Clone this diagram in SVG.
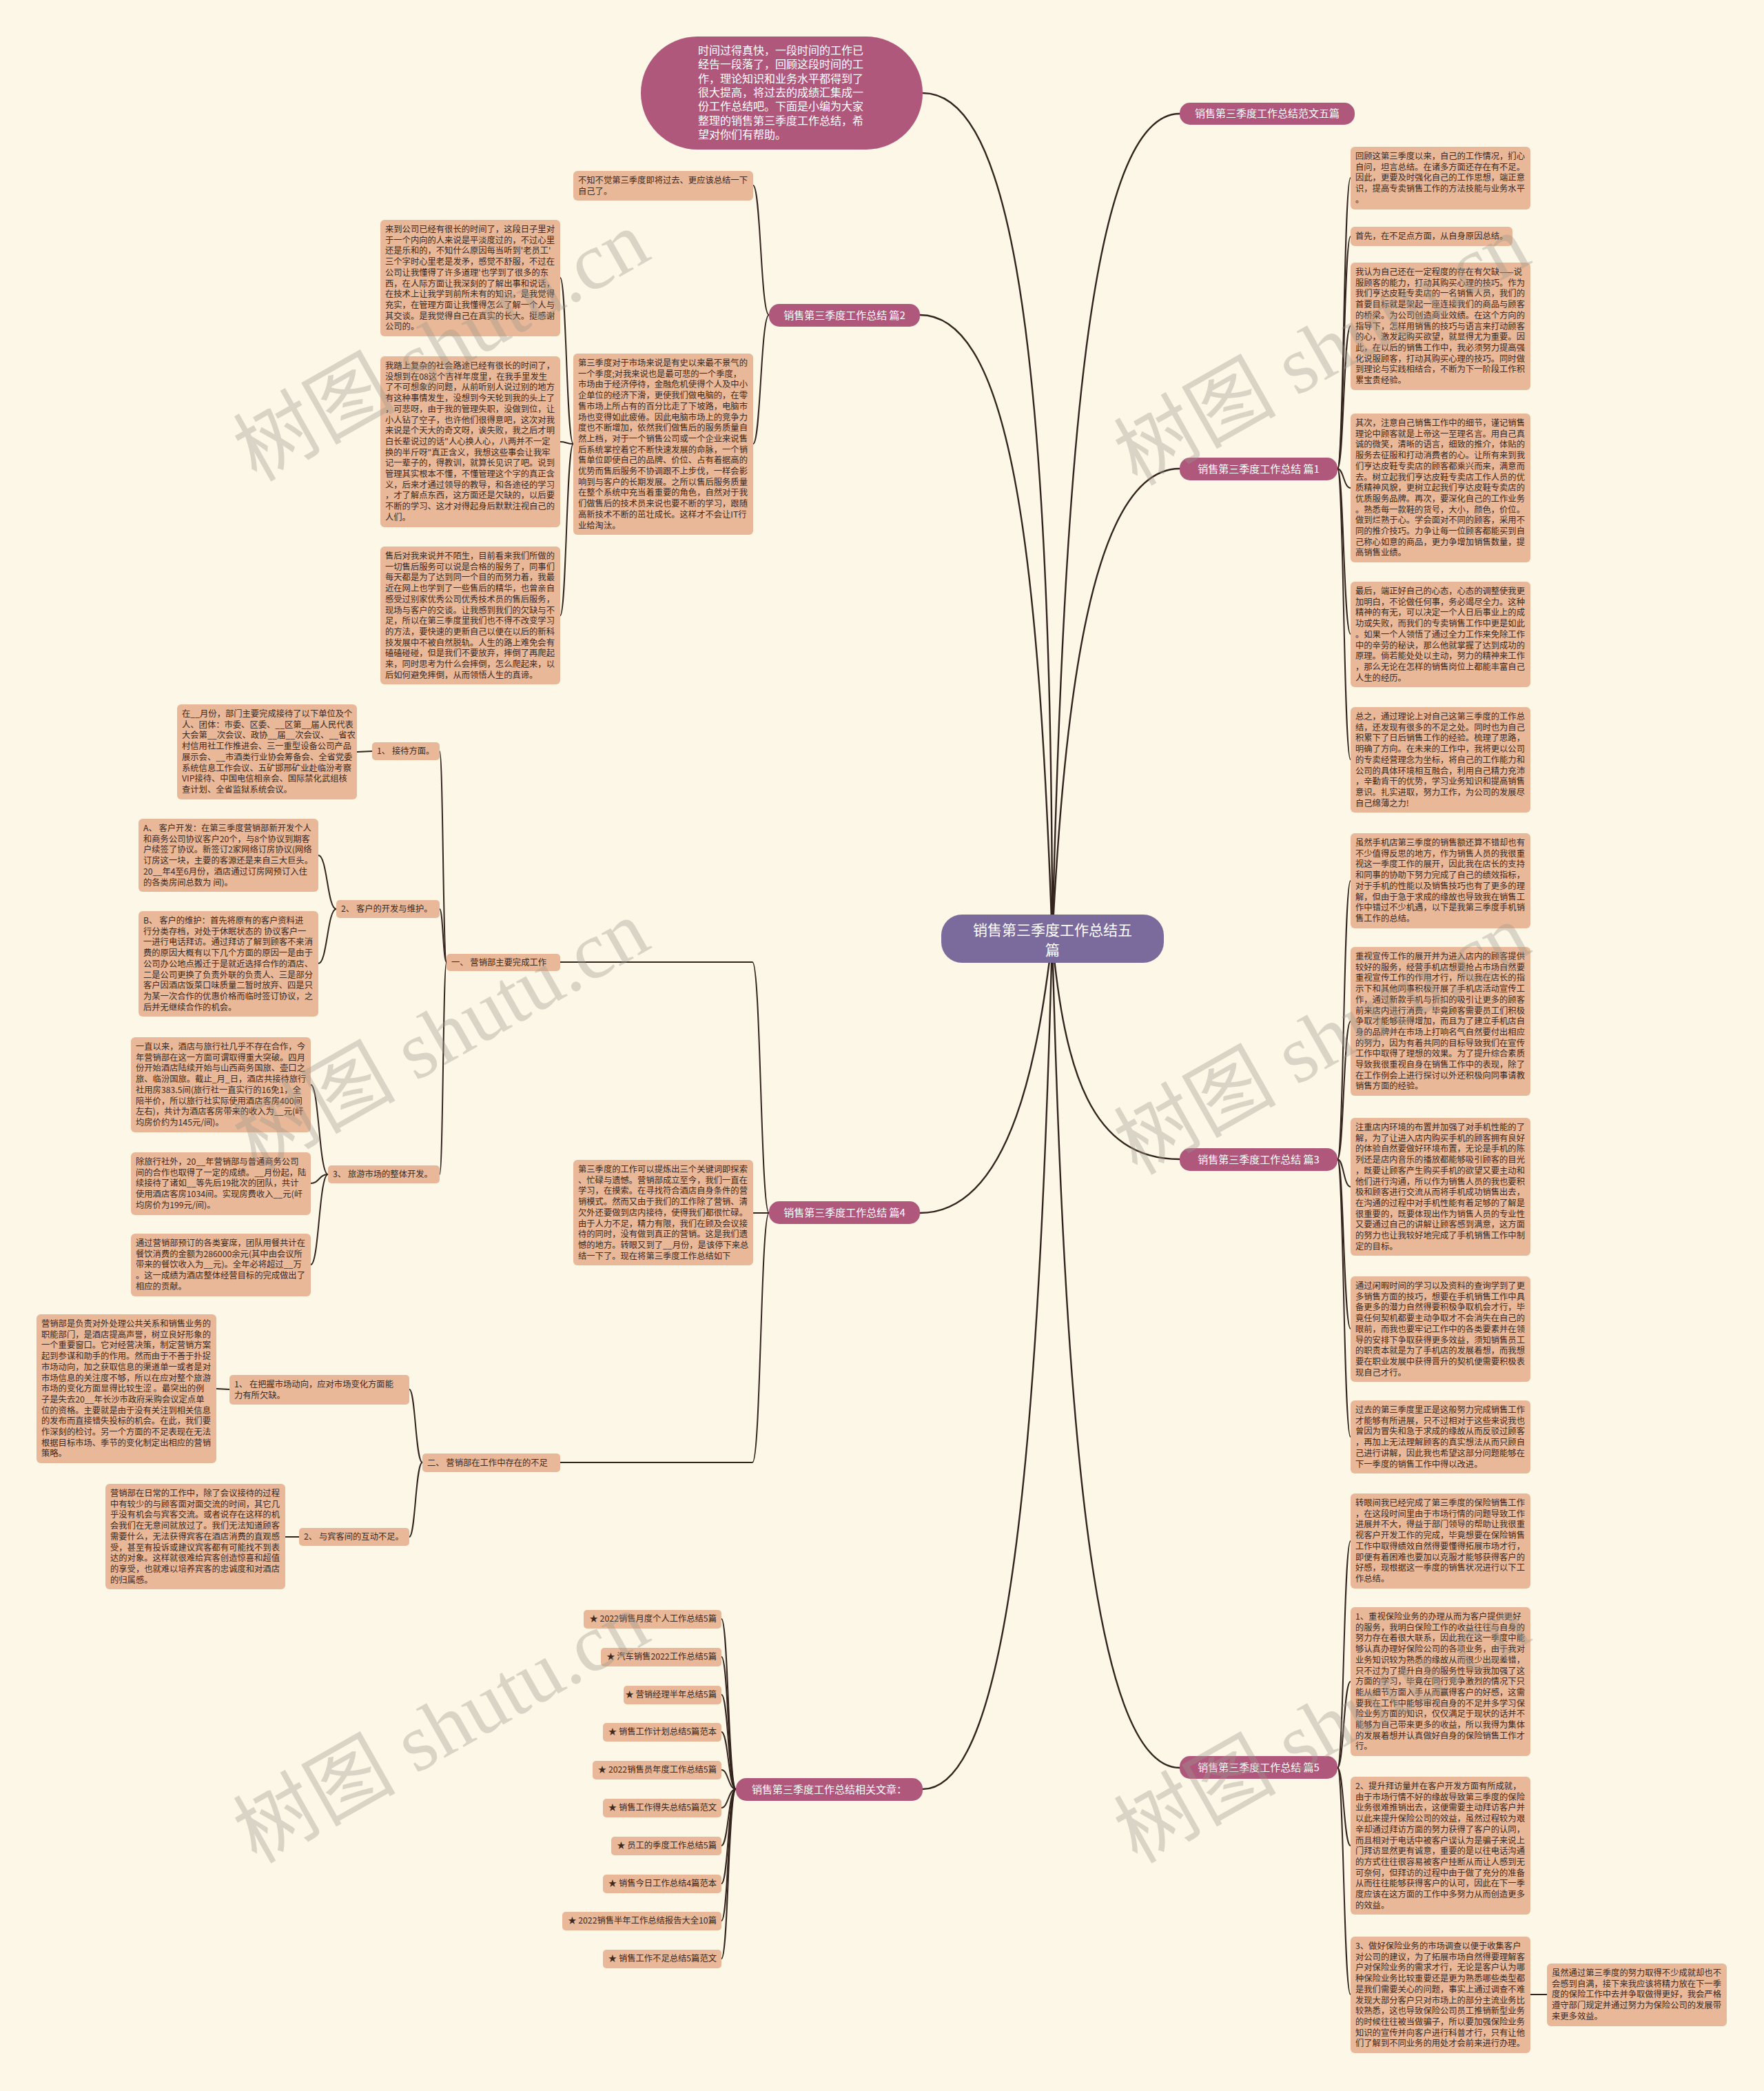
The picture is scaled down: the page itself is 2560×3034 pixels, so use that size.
<svg xmlns="http://www.w3.org/2000/svg" width="2560" height="3034" viewBox="0 0 2560 3034">
<style>
.bg{fill:#fdf7e7}
.bx{fill:#e9b899}
.t{font-family:'Noto Sans CJK SC','Noto Sans',sans-serif;font-size:12.3px;fill:#3c2a22}
.lb{fill:#b0587c}
.lt{font-family:'Noto Sans CJK SC','Noto Sans',sans-serif;font-size:15px;fill:#ffffff;text-anchor:middle}
.c{fill:none;stroke:#34241e;stroke-width:2}
.cm{fill:none;stroke:#34241e;stroke-width:2.4}
.wm{font-family:'Liberation Serif','Noto Sans CJK SC',serif;font-size:118px;fill:#9c978c;opacity:0.36}
.ra{text-anchor:end}
</style>
<rect class="bg" x="0" y="0" width="2560" height="3034"/>

<g id="connectors">
<path class="cm" d="M1339 135 C1450 135 1527 400 1527 1362"/>
<path class="cm" d="M1527 1362 C1545 644 1583 165 1712 165"/>
<path class="cm" d="M1527 1362 C1545 1018 1583 680 1712 680"/>
<path class="cm" d="M1527 1362 C1545 1554 1583 1682 1712 1682"/>
<path class="cm" d="M1527 1362 C1545 2043 1583 2565 1712 2565"/>
<path class="cm" d="M1527 1362 C1508 819 1470 457 1335 457"/>
<path class="cm" d="M1527 1362 C1508 1521 1470 1760 1335 1760"/>
<path class="cm" d="M1527 1362 C1508 2056 1470 2596 1339 2596"/>

<path class="c" d="M1941 680 C1950 680 1950 258 1960 258"/>
<path class="c" d="M1941 680 C1950 680 1950 343 1960 343"/>
<path class="c" d="M1941 680 C1950 680 1950 473 1960 473"/>
<path class="c" d="M1941 680 C1950 680 1950 708 1960 708"/>
<path class="c" d="M1941 680 C1950 680 1950 920 1960 920"/>
<path class="c" d="M1941 680 C1950 680 1950 1102 1960 1102"/>

<path class="c" d="M1941 1682 C1950 1682 1950 1278 1960 1278"/>
<path class="c" d="M1941 1682 C1950 1682 1950 1482 1960 1482"/>
<path class="c" d="M1941 1682 C1950 1682 1950 1722 1960 1722"/>
<path class="c" d="M1941 1682 C1950 1682 1950 1928 1960 1928"/>
<path class="c" d="M1941 1682 C1950 1682 1950 2085 1960 2085"/>

<path class="c" d="M1941 2565 C1950 2565 1950 2236 1960 2236"/>
<path class="c" d="M1941 2565 C1950 2565 1950 2440 1960 2440"/>
<path class="c" d="M1941 2565 C1950 2565 1950 2678 1960 2678"/>
<path class="c" d="M1941 2565 C1950 2565 1950 2894 1960 2894"/>
<path class="c" d="M2221 2894 L2245 2894"/>

<path class="c" d="M1116 457 C1104 457 1104 269 1093 269"/>
<path class="c" d="M1116 457 C1104 457 1104 644 1093 644"/>
<path class="c" d="M832 644 C822 644 822 403 813 403"/>
<path class="c" d="M832 644 C822 644 822 641 813 641"/>
<path class="c" d="M832 644 C822 644 822 893 813 893"/>

<path class="c" d="M1116 1760 C1104 1760 1104 1396 1092 1396 L813 1396"/>
<path class="c" d="M1116 1760 L1093 1760"/>
<path class="c" d="M1116 1760 C1104 1760 1104 2122 1092 2122 L813 2122"/>

<path class="c" d="M648 1396 C643 1396 643 1090 638 1090"/>
<path class="c" d="M648 1396 C643 1396 643 1319 638 1319"/>
<path class="c" d="M648 1396 C643 1396 643 1704 638 1704"/>
<path class="c" d="M540 1090 L518 1091"/>
<path class="c" d="M488 1319 C475 1319 475 1241 462 1241"/>
<path class="c" d="M488 1319 C475 1319 475 1398 462 1398"/>
<path class="c" d="M476 1704 C463 1704 463 1574 451 1574"/>
<path class="c" d="M476 1704 C463 1704 463 1717 451 1717"/>
<path class="c" d="M476 1704 C463 1704 463 1835 451 1835"/>

<path class="c" d="M613 2122 C603 2122 603 2016 594 2016"/>
<path class="c" d="M613 2122 C603 2122 603 2230 594 2230"/>
<path class="c" d="M333 2016 L314 2015"/>
<path class="c" d="M434 2230 L414 2230"/>

<path class="c" d="M1068 2596 C1057 2596 1057 2349 1047 2349"/>
<path class="c" d="M1068 2596 C1057 2596 1057 2404 1047 2404"/>
<path class="c" d="M1068 2596 C1057 2596 1057 2459 1047 2459"/>
<path class="c" d="M1068 2596 C1057 2596 1057 2513 1047 2513"/>
<path class="c" d="M1068 2596 C1057 2596 1057 2568 1047 2568"/>
<path class="c" d="M1068 2596 C1057 2596 1057 2623 1047 2623"/>
<path class="c" d="M1068 2596 C1057 2596 1057 2678 1047 2678"/>
<path class="c" d="M1068 2596 C1057 2596 1057 2733 1047 2733"/>
<path class="c" d="M1068 2596 C1057 2596 1057 2787 1047 2787"/>
<path class="c" d="M1068 2596 C1057 2596 1057 2842 1047 2842"/>
</g>

<g id="intro">
<rect x="930" y="53" width="409" height="164" rx="82" fill="#b0587c"/>
<text x="1013" y="79" style="font-family:'Noto Sans CJK SC',sans-serif;font-size:16px;fill:#fff">
<tspan x="1013">时间过得真快，一段时间的工作已</tspan>
<tspan x="1013" dy="20.3">经告一段落了，回顾这段时间的工</tspan>
<tspan x="1013" dy="20.3">作，理论知识和业务水平都得到了</tspan>
<tspan x="1013" dy="20.3">很大提高，将过去的成绩汇集成一</tspan>
<tspan x="1013" dy="20.3">份工作总结吧。下面是小编为大家</tspan>
<tspan x="1013" dy="20.3">整理的销售第三季度工作总结，希</tspan>
<tspan x="1013" dy="20.3">望对你们有帮助。</tspan>
</text>
</g>

<g id="center">
<rect x="1366" y="1327" width="323" height="70" rx="30" fill="#7b6b9d"/>
<text x="1527.5" y="1357" style="font-family:'Noto Sans CJK SC',sans-serif;font-size:21px;fill:#fff;text-anchor:middle"><tspan x="1527.5">销售第三季度工作总结五</tspan><tspan x="1527.5" dy="29">篇</tspan></text>
</g>

<g id="l-fanwen"><rect class="lb" x="1712" y="149" width="254" height="32" rx="15"/><text class="lt" x="1839" y="170">销售第三季度工作总结范文五篇</text></g>
<g id="l-p1"><rect class="lb" x="1712" y="664" width="229" height="33" rx="15"/><text class="lt" x="1826.5" y="686">销售第三季度工作总结 篇1</text></g>
<g id="l-p3"><rect class="lb" x="1712" y="1666" width="229" height="33" rx="15"/><text class="lt" x="1826.5" y="1688">销售第三季度工作总结 篇3</text></g>
<g id="l-p5"><rect class="lb" x="1712" y="2548" width="229" height="33" rx="15"/><text class="lt" x="1826.5" y="2570">销售第三季度工作总结 篇5</text></g>
<g id="l-p2"><rect class="lb" x="1116" y="441" width="219" height="33" rx="15"/><text class="lt" x="1225.5" y="463">销售第三季度工作总结 篇2</text></g>
<g id="l-p4"><rect class="lb" x="1116" y="1743" width="219" height="33" rx="15"/><text class="lt" x="1225.5" y="1765">销售第三季度工作总结 篇4</text></g>
<g id="l-rel"><rect class="lb" x="1068" y="2580" width="271" height="33" rx="15"/><text class="lt" x="1203.5" y="2602">销售第三季度工作总结相关文章：</text></g>

<g id="b1"><rect class="bx" x="1960" y="213" width="261" height="91" rx="6"/><text class="t" x="1967" y="231">
<tspan x="1967">回顾这第三季度以来，自己的工作情况，扪心</tspan>
<tspan x="1967" dy="15.7">自问，坦言总结。在诸多方面还存在有不足。</tspan>
<tspan x="1967" dy="15.7">因此，更要及时强化自己的工作思想，端正意</tspan>
<tspan x="1967" dy="15.7">识，提高专卖销售工作的方法技能与业务水平</tspan>
<tspan x="1967" dy="15.7">。</tspan></text></g>
<g id="b2"><rect class="bx" x="1960" y="329" width="235" height="28" rx="6"/><text class="t" x="1967" y="347">首先，在不足点方面，从自身原因总结。</text></g>
<g id="b3"><rect class="bx" x="1960" y="381" width="261" height="185" rx="6"/><text class="t" x="1967" y="399">
<tspan x="1967">我认为自己还在一定程度的存在有欠缺——说</tspan>
<tspan x="1967" dy="15.7">服顾客的能力，打动其购买心理的技巧。作为</tspan>
<tspan x="1967" dy="15.7">我们亨达皮鞋专卖店的一名销售人员，我们的</tspan>
<tspan x="1967" dy="15.7">首要目标就是架起一座连接我们的商品与顾客</tspan>
<tspan x="1967" dy="15.7">的桥梁。为公司创造商业效绩。在这个方向的</tspan>
<tspan x="1967" dy="15.7">指导下，怎样用销售的技巧与语言来打动顾客</tspan>
<tspan x="1967" dy="15.7">的心，激发起购买欲望，就显得尤为重要。因</tspan>
<tspan x="1967" dy="15.7">此，在以后的销售工作中，我必须努力提高强</tspan>
<tspan x="1967" dy="15.7">化说服顾客，打动其购买心理的技巧。同时做</tspan>
<tspan x="1967" dy="15.7">到理论与实践相结合，不断为下一阶段工作积</tspan>
<tspan x="1967" dy="15.7">累宝贵经验。</tspan></text></g>
<g id="b4"><rect class="bx" x="1960" y="600" width="261" height="216" rx="6"/><text class="t" x="1967" y="618">
<tspan x="1967">其次，注意自己销售工作中的细节，谨记销售</tspan>
<tspan x="1967" dy="15.7">理论中顾客就是上帝这一至理名言。用自己真</tspan>
<tspan x="1967" dy="15.7">诚的微笑，清晰的语言，细致的推介，体贴的</tspan>
<tspan x="1967" dy="15.7">服务去征服和打动消费者的心。让所有来到我</tspan>
<tspan x="1967" dy="15.7">们亨达皮鞋专卖店的顾客都乘兴而来，满意而</tspan>
<tspan x="1967" dy="15.7">去。树立起我们亨达皮鞋专卖店工作人员的优</tspan>
<tspan x="1967" dy="15.7">质精神风貌，更树立起我们亨达皮鞋专卖店的</tspan>
<tspan x="1967" dy="15.7">优质服务品牌。再次，要深化自己的工作业务</tspan>
<tspan x="1967" dy="15.7">。熟悉每一款鞋的货号，大小，颜色，价位。</tspan>
<tspan x="1967" dy="15.7">做到烂熟于心。学会面对不同的顾客，采用不</tspan>
<tspan x="1967" dy="15.7">同的推介技巧。力争让每一位顾客都能买到自</tspan>
<tspan x="1967" dy="15.7">己称心如意的商品，更力争增加销售数量，提</tspan>
<tspan x="1967" dy="15.7">高销售业绩。</tspan></text></g>
<g id="b5"><rect class="bx" x="1960" y="844" width="261" height="153" rx="6"/><text class="t" x="1967" y="862">
<tspan x="1967">最后，端正好自己的心态，心态的调整使我更</tspan>
<tspan x="1967" dy="15.7">加明白，不论做任何事，务必竭尽全力。这种</tspan>
<tspan x="1967" dy="15.7">精神的有无，可以决定一个人日后事业上的成</tspan>
<tspan x="1967" dy="15.7">功或失败，而我们的专卖销售工作中更是如此</tspan>
<tspan x="1967" dy="15.7">。如果一个人领悟了通过全力工作来免除工作</tspan>
<tspan x="1967" dy="15.7">中的辛劳的秘诀，那么他就掌握了达到成功的</tspan>
<tspan x="1967" dy="15.7">原理。倘若能处处以主动，努力的精神来工作</tspan>
<tspan x="1967" dy="15.7">，那么无论在怎样的销售岗位上都能丰富自己</tspan>
<tspan x="1967" dy="15.7">人生的经历。</tspan></text></g>
<g id="b6"><rect class="bx" x="1960" y="1026" width="261" height="153" rx="6"/><text class="t" x="1967" y="1044">
<tspan x="1967">总之，通过理论上对自己这第三季度的工作总</tspan>
<tspan x="1967" dy="15.7">结，还发现有很多的不足之处。同时也为自己</tspan>
<tspan x="1967" dy="15.7">积累下了日后销售工作的经验。梳理了思路，</tspan>
<tspan x="1967" dy="15.7">明确了方向。在未来的工作中，我将更以公司</tspan>
<tspan x="1967" dy="15.7">的专卖经营理念为坐标，将自己的工作能力和</tspan>
<tspan x="1967" dy="15.7">公司的具体环境相互融合，利用自己精力充沛</tspan>
<tspan x="1967" dy="15.7">，辛勤肯干的优势，学习业务知识和提高销售</tspan>
<tspan x="1967" dy="15.7">意识。扎实进取，努力工作，为公司的发展尽</tspan>
<tspan x="1967" dy="15.7">自己绵薄之力!</tspan></text></g>

<g id="c1"><rect class="bx" x="1960" y="1209" width="261" height="138" rx="6"/><text class="t" x="1967" y="1227">
<tspan x="1967">虽然手机店第三季度的销售额还算不错却也有</tspan>
<tspan x="1967" dy="15.7">不少值得反思的地方，作为销售人员的我很重</tspan>
<tspan x="1967" dy="15.7">视这一季度工作的展开，因此我在店长的支持</tspan>
<tspan x="1967" dy="15.7">和同事的协助下努力完成了自己的绩效指标，</tspan>
<tspan x="1967" dy="15.7">对于手机的性能以及销售技巧也有了更多的理</tspan>
<tspan x="1967" dy="15.7">解，但由于急于求成的缘故也导致我在销售工</tspan>
<tspan x="1967" dy="15.7">作中错过不少机遇，以下是我第三季度手机销</tspan>
<tspan x="1967" dy="15.7">售工作的总结。</tspan></text></g>
<g id="c2"><rect class="bx" x="1960" y="1374" width="261" height="216" rx="6"/><text class="t" x="1967" y="1392">
<tspan x="1967">重视宣传工作的展开并为进入店内的顾客提供</tspan>
<tspan x="1967" dy="15.7">较好的服务，经营手机店想要抢占市场自然要</tspan>
<tspan x="1967" dy="15.7">重视宣传工作的作用才行，所以我在店长的指</tspan>
<tspan x="1967" dy="15.7">示下和其他同事积极开展了手机店活动宣传工</tspan>
<tspan x="1967" dy="15.7">作，通过新款手机与折扣的吸引让更多的顾客</tspan>
<tspan x="1967" dy="15.7">前来店内进行消费，毕竟顾客需要员工们积极</tspan>
<tspan x="1967" dy="15.7">争取才能够获得增加，而且为了建立手机店自</tspan>
<tspan x="1967" dy="15.7">身的品牌并在市场上打响名气自然要付出相应</tspan>
<tspan x="1967" dy="15.7">的努力，因为有着共同的目标导致我们在宣传</tspan>
<tspan x="1967" dy="15.7">工作中取得了理想的效果。为了提升综合素质</tspan>
<tspan x="1967" dy="15.7">导致我很重视自身在销售工作中的表现，除了</tspan>
<tspan x="1967" dy="15.7">在工作例会上进行探讨以外还积极向同事请教</tspan>
<tspan x="1967" dy="15.7">销售方面的经验。</tspan></text></g>
<g id="c3"><rect class="bx" x="1960" y="1622" width="261" height="200" rx="6"/><text class="t" x="1967" y="1640">
<tspan x="1967">注重店内环境的布置并加强了对手机性能的了</tspan>
<tspan x="1967" dy="15.7">解，为了让进入店内购买手机的顾客拥有良好</tspan>
<tspan x="1967" dy="15.7">的体验自然要做好环境布置，无论是手机的陈</tspan>
<tspan x="1967" dy="15.7">列还是店内音乐的播放都能够吸引顾客的目光</tspan>
<tspan x="1967" dy="15.7">，既要让顾客产生购买手机的欲望又要主动和</tspan>
<tspan x="1967" dy="15.7">他们进行沟通，所以作为销售人员的我也要积</tspan>
<tspan x="1967" dy="15.7">极和顾客进行交流从而将手机成功销售出去，</tspan>
<tspan x="1967" dy="15.7">在沟通的过程中对手机性能有着足够的了解是</tspan>
<tspan x="1967" dy="15.7">很重要的，既要体现出作为销售人员的专业性</tspan>
<tspan x="1967" dy="15.7">又要通过自己的讲解让顾客感到满意，这方面</tspan>
<tspan x="1967" dy="15.7">的努力也让我较好地完成了手机销售工作中制</tspan>
<tspan x="1967" dy="15.7">定的目标。</tspan></text></g>
<g id="c4"><rect class="bx" x="1960" y="1852" width="261" height="153" rx="6"/><text class="t" x="1967" y="1870">
<tspan x="1967">通过闲暇时间的学习以及资料的查询学到了更</tspan>
<tspan x="1967" dy="15.7">多销售方面的技巧，想要在手机销售工作中具</tspan>
<tspan x="1967" dy="15.7">备更多的潜力自然得要积极争取机会才行，毕</tspan>
<tspan x="1967" dy="15.7">竟任何契机都要主动争取才不会消失在自己的</tspan>
<tspan x="1967" dy="15.7">眼前，而我也要牢记工作中的各类要素并在领</tspan>
<tspan x="1967" dy="15.7">导的安排下争取获得更多效益，须知销售员工</tspan>
<tspan x="1967" dy="15.7">的职责本就是为了手机店的发展着想，而我想</tspan>
<tspan x="1967" dy="15.7">要在职业发展中获得晋升的契机便需要积极表</tspan>
<tspan x="1967" dy="15.7">现自己才行。</tspan></text></g>
<g id="c5"><rect class="bx" x="1960" y="2032" width="261" height="106" rx="6"/><text class="t" x="1967" y="2050">
<tspan x="1967">过去的第三季度里正是这般努力完成销售工作</tspan>
<tspan x="1967" dy="15.7">才能够有所进展，只不过相对于这些来说我也</tspan>
<tspan x="1967" dy="15.7">曾因为冒失和急于求成的缘故从而反驳过顾客</tspan>
<tspan x="1967" dy="15.7">，再加上无法理解顾客的真实想法从而只顾自</tspan>
<tspan x="1967" dy="15.7">己进行讲解，因此我也希望这部分问题能够在</tspan>
<tspan x="1967" dy="15.7">下一季度的销售工作中得以改进。</tspan></text></g>

<g id="d1"><rect class="bx" x="1960" y="2167" width="261" height="138" rx="6"/><text class="t" x="1967" y="2185">
<tspan x="1967">转眼间我已经完成了第三季度的保险销售工作</tspan>
<tspan x="1967" dy="15.7">，在这段时间里由于市场行情的问题导致工作</tspan>
<tspan x="1967" dy="15.7">进展并不大，得益于部门领导的帮助让我很重</tspan>
<tspan x="1967" dy="15.7">视客户开发工作的完成，毕竟想要在保险销售</tspan>
<tspan x="1967" dy="15.7">工作中取得绩效自然得要懂得拓展市场才行，</tspan>
<tspan x="1967" dy="15.7">即便有着困难也要加以克服才能够获得客户的</tspan>
<tspan x="1967" dy="15.7">好感，现根据这一季度的销售状况进行以下工</tspan>
<tspan x="1967" dy="15.7">作总结。</tspan></text></g>
<g id="d2"><rect class="bx" x="1960" y="2332" width="261" height="216" rx="6"/><text class="t" x="1967" y="2350">
<tspan x="1967">1、重视保险业务的办理从而为客户提供更好</tspan>
<tspan x="1967" dy="15.7">的服务，我明白保险工作的收益往往与自身的</tspan>
<tspan x="1967" dy="15.7">努力存在着很大联系，因此我在这一季度中能</tspan>
<tspan x="1967" dy="15.7">够认真办理好保险公司的各项业务，由于我对</tspan>
<tspan x="1967" dy="15.7">业务知识较为熟悉的缘故从而很少出现差错，</tspan>
<tspan x="1967" dy="15.7">只不过为了提升自身的服务性导致我加强了这</tspan>
<tspan x="1967" dy="15.7">方面的学习，毕竟在同行竞争激烈的情况下只</tspan>
<tspan x="1967" dy="15.7">能从细节方面入手从而赢得客户的好感，这需</tspan>
<tspan x="1967" dy="15.7">要我在工作中能够审视自身的不足并多学习保</tspan>
<tspan x="1967" dy="15.7">险业务方面的知识，仅仅满足于现状的话并不</tspan>
<tspan x="1967" dy="15.7">能够为自己带来更多的收益，所以我得为集体</tspan>
<tspan x="1967" dy="15.7">的发展着想并认真做好自身的保险销售工作才</tspan>
<tspan x="1967" dy="15.7">行。</tspan></text></g>
<g id="d3"><rect class="bx" x="1960" y="2578" width="261" height="200" rx="6"/><text class="t" x="1967" y="2596">
<tspan x="1967">2、提升拜访量并在客户开发方面有所成就，</tspan>
<tspan x="1967" dy="15.7">由于市场行情不好的缘故导致第三季度的保险</tspan>
<tspan x="1967" dy="15.7">业务很难推销出去，这便需要主动拜访客户并</tspan>
<tspan x="1967" dy="15.7">以此来提升保险公司的效益，虽然过程较为艰</tspan>
<tspan x="1967" dy="15.7">辛却通过拜访方面的努力获得了客户的认同，</tspan>
<tspan x="1967" dy="15.7">而且相对于电话中被客户误认为是骗子来说上</tspan>
<tspan x="1967" dy="15.7">门拜访显然更有诚意，重要的是以往电话沟通</tspan>
<tspan x="1967" dy="15.7">的方式往往很容易被客户挂断从而让人感到无</tspan>
<tspan x="1967" dy="15.7">可奈何，但拜访的过程中由于做了充分的准备</tspan>
<tspan x="1967" dy="15.7">从而往往能够获得客户的认可，因此在下一季</tspan>
<tspan x="1967" dy="15.7">度应该在这方面的工作中多努力从而创造更多</tspan>
<tspan x="1967" dy="15.7">的效益。</tspan></text></g>
<g id="d4"><rect class="bx" x="1960" y="2810" width="261" height="169" rx="6"/><text class="t" x="1967" y="2828">
<tspan x="1967">3、做好保险业务的市场调查以便于收集客户</tspan>
<tspan x="1967" dy="15.7">对公司的建议，为了拓展市场自然得要理解客</tspan>
<tspan x="1967" dy="15.7">户对保险业务的需求才行，无论是客户认为哪</tspan>
<tspan x="1967" dy="15.7">种保险业务比较重要还是更为熟悉哪些类型都</tspan>
<tspan x="1967" dy="15.7">是我们需要关心的问题，事实上通过调查不难</tspan>
<tspan x="1967" dy="15.7">发现大部分客户只对市场上的部分主流业务比</tspan>
<tspan x="1967" dy="15.7">较熟悉，这也导致保险公司员工推销新型业务</tspan>
<tspan x="1967" dy="15.7">的时候往往被当做骗子，所以要加强保险业务</tspan>
<tspan x="1967" dy="15.7">知识的宣传并向客户进行科普才行，只有让他</tspan>
<tspan x="1967" dy="15.7">们了解到不同业务的用处才会前来进行办理。</tspan></text></g>
<g id="d5"><rect class="bx" x="2245" y="2849" width="261" height="91" rx="6"/><text class="t" x="2252" y="2867">
<tspan x="2252">虽然通过第三季度的努力取得不少成就却也不</tspan>
<tspan x="2252" dy="15.7">会感到自满，接下来我应该将精力放在下一季</tspan>
<tspan x="2252" dy="15.7">度的保险工作中去并争取做得更好，我会严格</tspan>
<tspan x="2252" dy="15.7">遵守部门规定并通过努力为保险公司的发展带</tspan>
<tspan x="2252" dy="15.7">来更多效益。</tspan></text></g>

<g id="e1"><rect class="bx" x="832" y="248" width="261" height="43" rx="6"/><text class="t" x="839" y="266">
<tspan x="839">不知不觉第三季度即将过去、更应该总结一下</tspan>
<tspan x="839" dy="15.7">自己了。</tspan></text></g>
<g id="e2"><rect class="bx" x="832" y="513" width="261" height="263" rx="6"/><text class="t" x="839" y="531">
<tspan x="839">第三季度对于市场来说是有史以来最不景气的</tspan>
<tspan x="839" dy="15.7">一个季度;对我来说也是最可悲的一个季度，</tspan>
<tspan x="839" dy="15.7">市场由于经济停待，金融危机使得个人及中小</tspan>
<tspan x="839" dy="15.7">企单位的经济下滑，更使我们做电脑的，在零</tspan>
<tspan x="839" dy="15.7">售市场上所占有的百分比走了下坡路，电脑市</tspan>
<tspan x="839" dy="15.7">场也变得如此疲倦。因此电脑市场上的竞争力</tspan>
<tspan x="839" dy="15.7">度也不断增加，依然我们做售后的服务质量自</tspan>
<tspan x="839" dy="15.7">然上档，对于一个销售公司或一个企业来说售</tspan>
<tspan x="839" dy="15.7">后系统掌控着它不断快速发展的命脉，一个销</tspan>
<tspan x="839" dy="15.7">售单位即使自己的品牌、价位、占有着据高的</tspan>
<tspan x="839" dy="15.7">优势而售后服务不协调跟不上步伐，一样会影</tspan>
<tspan x="839" dy="15.7">响到与客户的长期发展。之所以售后服务质量</tspan>
<tspan x="839" dy="15.7">在整个系统中充当着重要的角色，自然对于我</tspan>
<tspan x="839" dy="15.7">们做售后的技术员来说也要不断的学习，跟随</tspan>
<tspan x="839" dy="15.7">高新技术不断的茁壮成长。这样才不会让IT行</tspan>
<tspan x="839" dy="15.7">业给淘汰。</tspan></text></g>
<g id="a1"><rect class="bx" x="552" y="319" width="261" height="169" rx="6"/><text class="t" x="559" y="337">
<tspan x="559">来到公司已经有很长的时间了，这段日子里对</tspan>
<tspan x="559" dy="15.7">于一个内向的人来说是平淡度过的，不过心里</tspan>
<tspan x="559" dy="15.7">还是乐和的，不知什么原因每当听到'老员工'</tspan>
<tspan x="559" dy="15.7">三个字时心里老是发矛，感觉不舒服，不过在</tspan>
<tspan x="559" dy="15.7">公司让我懂得了许多道理'也学到了很多的东</tspan>
<tspan x="559" dy="15.7">西，在人际方面让我深刻的了解出事和说话，</tspan>
<tspan x="559" dy="15.7">在技术上让我学到前所未有的知识，是我觉得</tspan>
<tspan x="559" dy="15.7">充实，在管理方面让我懂得怎么了解一个人与</tspan>
<tspan x="559" dy="15.7">其交谈。是我觉得自己在真实的长大。挺感谢</tspan>
<tspan x="559" dy="15.7">公司的。</tspan></text></g>
<g id="a2"><rect class="bx" x="552" y="517" width="261" height="248" rx="6"/><text class="t" x="559" y="535">
<tspan x="559">我踏上复杂的社会路途已经有很长的时间了，</tspan>
<tspan x="559" dy="15.7">没想到在08这个吉祥年度里，在我手里发生</tspan>
<tspan x="559" dy="15.7">了不可想象的问题，从前听别人说过别的地方</tspan>
<tspan x="559" dy="15.7">有这种事情发生，没想到今天轮到我的头上了</tspan>
<tspan x="559" dy="15.7">，可悲呀，由于我的管理失职，没做到位，让</tspan>
<tspan x="559" dy="15.7">小人钻了空子，也许他们很得意吧，这次对我</tspan>
<tspan x="559" dy="15.7">来说是个天大的奇文呀，诶失败，我之后才明</tspan>
<tspan x="559" dy="15.7">白长辈说过的话"人心换人心，八两并不一定</tspan>
<tspan x="559" dy="15.7">换的半斤呀"真正含义，我想这些事会让我牢</tspan>
<tspan x="559" dy="15.7">记一辈子的，得教训，就算长见识了吧。说到</tspan>
<tspan x="559" dy="15.7">管理其实根本不懂，不懂管理这个字的真正含</tspan>
<tspan x="559" dy="15.7">义，后来才通过领导的教导，和各途径的学习</tspan>
<tspan x="559" dy="15.7">，才了解点东西，这方面还是欠缺的，以后要</tspan>
<tspan x="559" dy="15.7">不断的学习、这才对得起身后默默注视自己的</tspan>
<tspan x="559" dy="15.7">人们。</tspan></text></g>
<g id="a3"><rect class="bx" x="552" y="793" width="261" height="200" rx="6"/><text class="t" x="559" y="811">
<tspan x="559">售后对我来说并不陌生，目前看来我们所做的</tspan>
<tspan x="559" dy="15.7">一切售后服务可以说是合格的服务了，同事们</tspan>
<tspan x="559" dy="15.7">每天都是为了达到同一个目的而努力着，我最</tspan>
<tspan x="559" dy="15.7">近在网上也学到了一些售后的精华，也曾亲自</tspan>
<tspan x="559" dy="15.7">感受过别家优秀公司优秀技术员的售后服务，</tspan>
<tspan x="559" dy="15.7">现场与客户的交谈。让我感到我们的欠缺与不</tspan>
<tspan x="559" dy="15.7">足，所以在第三季度里我们也不得不改变学习</tspan>
<tspan x="559" dy="15.7">的方法，要快速的更新自己以便在以后的新科</tspan>
<tspan x="559" dy="15.7">技发展中不被自然脱轨。人生的路上难免会有</tspan>
<tspan x="559" dy="15.7">磕磕碰碰，但是我们不要放弃，摔倒了再爬起</tspan>
<tspan x="559" dy="15.7">来，同时思考为什么会摔倒，怎么爬起来，以</tspan>
<tspan x="559" dy="15.7">后如何避免摔倒，从而领悟人生的真谛。</tspan></text></g>

<g id="f0"><rect class="bx" x="832" y="1683" width="261" height="153" rx="6"/><text class="t" x="839" y="1701">
<tspan x="839">第三季度的工作可以提炼出三个关键词即探索</tspan>
<tspan x="839" dy="15.7">、忙碌与遗憾。营销部成立至今，我们一直在</tspan>
<tspan x="839" dy="15.7">学习，在摸索。在寻找符合酒店自身条件的营</tspan>
<tspan x="839" dy="15.7">销模式。然而又由于我们的工作除了营销、清</tspan>
<tspan x="839" dy="15.7">欠外还要做到店内接待，使得我们都很忙碌。</tspan>
<tspan x="839" dy="15.7">由于人力不足，精力有限，我们在顾及会议接</tspan>
<tspan x="839" dy="15.7">待的同时，没有做到真正的营销。这是我们遗</tspan>
<tspan x="839" dy="15.7">憾的地方。转眼又到了__月份，是该停下来总</tspan>
<tspan x="839" dy="15.7">结一下了。现在将第三季度工作总结如下</tspan></text></g>

<g id="k1"><rect class="bx" x="648" y="1384" width="165" height="25" rx="5"/><text class="t" x="655" y="1401">一、 营销部主要完成工作</text></g>
<g id="k2"><rect class="bx" x="613" y="2109" width="200" height="27" rx="5"/><text class="t" x="620" y="2127">二、 营销部在工作中存在的不足</text></g>
<g id="k11"><rect class="bx" x="540" y="1077" width="98" height="26" rx="5"/><text class="t" x="547" y="1094">1、 接待方面。</text></g>
<g id="k12"><rect class="bx" x="488" y="1306" width="150" height="26" rx="5"/><text class="t" x="495" y="1323">2、 客户的开发与维护。</text></g>
<g id="k13"><rect class="bx" x="476" y="1691" width="162" height="26" rx="5"/><text class="t" x="483" y="1708">3、 旅游市场的整体开发。</text></g>
<g id="k21"><rect class="bx" x="333" y="1995" width="261" height="43" rx="5"/><text class="t" x="340" y="2013"><tspan x="340">1、 在把握市场动向，应对市场变化方面能</tspan><tspan x="340" dy="15.7">力有所欠缺。</tspan></text></g>
<g id="k22"><rect class="bx" x="434" y="2217" width="160" height="26" rx="5"/><text class="t" x="441" y="2234">2、 与宾客间的互动不足。</text></g>

<g id="g1"><rect class="bx" x="257" y="1022" width="261" height="138" rx="6"/><text class="t" x="264" y="1040">
<tspan x="264">在__月份，部门主要完成接待了以下单位及个</tspan>
<tspan x="264" dy="15.7">人、团体：市委、区委、__区第__届人民代表</tspan>
<tspan x="264" dy="15.7">大会第__次会议、政协__届__次会议、__省农</tspan>
<tspan x="264" dy="15.7">村信用社工作推进会、三一重型设备公司产品</tspan>
<tspan x="264" dy="15.7">展示会、__市酒类行业协会筹备会、全省党委</tspan>
<tspan x="264" dy="15.7">系统信息工作会议、五矿邯邢矿业赴临汾考察</tspan>
<tspan x="264" dy="15.7">VIP接待、中国电信相亲会、国际禁化武组核</tspan>
<tspan x="264" dy="15.7">查计划、全省监狱系统会议。</tspan></text></g>
<g id="g2"><rect class="bx" x="201" y="1188" width="261" height="106" rx="6"/><text class="t" x="208" y="1206">
<tspan x="208">A、 客户开发：在第三季度营销部新开发个人</tspan>
<tspan x="208" dy="15.7">和商务公司协议客户20个，与8个协议到期客</tspan>
<tspan x="208" dy="15.7">户续签了协议。新签订2家网络订房协议(网络</tspan>
<tspan x="208" dy="15.7">订房这一块，主要的客源还是来自三大巨头。</tspan>
<tspan x="208" dy="15.7">20__年4至6月份，酒店通过订房网预订入住</tspan>
<tspan x="208" dy="15.7">的各类房间总数为 间)。</tspan></text></g>
<g id="g3"><rect class="bx" x="201" y="1322" width="261" height="153" rx="6"/><text class="t" x="208" y="1340">
<tspan x="208">B、 客户的维护：首先将原有的客户资料进</tspan>
<tspan x="208" dy="15.7">行分类存档，对处于休眠状态的 协议客户一</tspan>
<tspan x="208" dy="15.7">一进行电话拜访。通过拜访了解到顾客不来消</tspan>
<tspan x="208" dy="15.7">费的原因大概有以下几个方面的原因一是由于</tspan>
<tspan x="208" dy="15.7">公司办公地点搬迁于是就近选择合作的酒店、</tspan>
<tspan x="208" dy="15.7">二是公司更换了负责外联的负责人、三是部分</tspan>
<tspan x="208" dy="15.7">客户因酒店饭菜口味质量二暂时放弃、四是只</tspan>
<tspan x="208" dy="15.7">为某一次合作的优惠价格而临时签订协议，之</tspan>
<tspan x="208" dy="15.7">后并无继续合作的机会。</tspan></text></g>
<g id="g4"><rect class="bx" x="190" y="1505" width="261" height="138" rx="6"/><text class="t" x="197" y="1523">
<tspan x="197">一直以来，酒店与旅行社几乎不存在合作，今</tspan>
<tspan x="197" dy="15.7">年营销部在这一方面可谓取得重大突破。四月</tspan>
<tspan x="197" dy="15.7">份开始酒店陆续开始与山西商务国旅、壶口之</tspan>
<tspan x="197" dy="15.7">旅、临汾国旅。截止_月_日，酒店共接待旅行</tspan>
<tspan x="197" dy="15.7">社用房383.5间(旅行社一直实行的16免1，全</tspan>
<tspan x="197" dy="15.7">陪半价，所以旅行社实际使用酒店客房400间</tspan>
<tspan x="197" dy="15.7">左右)，共计为酒店客房带来的收入为__元(屽</tspan>
<tspan x="197" dy="15.7">均房价约为145元/间)。</tspan></text></g>
<g id="g5"><rect class="bx" x="190" y="1672" width="261" height="91" rx="6"/><text class="t" x="197" y="1690">
<tspan x="197">除旅行社外，20__年营销部与普通商务公司</tspan>
<tspan x="197" dy="15.7">间的合作也取得了一定的成绩。__月份起，陆</tspan>
<tspan x="197" dy="15.7">续接待了诸如__等先后19批次的团队，共计</tspan>
<tspan x="197" dy="15.7">使用酒店客房1034间。实现房费收入__元(屽</tspan>
<tspan x="197" dy="15.7">均房价为199元/间)。</tspan></text></g>
<g id="g6"><rect class="bx" x="190" y="1790" width="261" height="91" rx="6"/><text class="t" x="197" y="1808">
<tspan x="197">通过营销部预订的各类宴席，团队用餐共计在</tspan>
<tspan x="197" dy="15.7">餐饮消费的金额为286000余元(其中由会议所</tspan>
<tspan x="197" dy="15.7">带来的餐饮收入为__元)。全年必将超过__万</tspan>
<tspan x="197" dy="15.7">。这一成绩为酒店整体经营目标的完成做出了</tspan>
<tspan x="197" dy="15.7">相应的贡献。</tspan></text></g>

<g id="h1"><rect class="bx" x="53" y="1907" width="261" height="216" rx="6"/><text class="t" x="60" y="1925">
<tspan x="60">营销部是负责对外处理公共关系和销售业务的</tspan>
<tspan x="60" dy="15.7">职能部门，是酒店提高声誉，树立良好形象的</tspan>
<tspan x="60" dy="15.7">一个重要窗口。它对经营决策，制定营销方案</tspan>
<tspan x="60" dy="15.7">起到参谋和助手的作用。然而由于不善于扑捉</tspan>
<tspan x="60" dy="15.7">市场动向，加之获取信息的渠道单一或者是对</tspan>
<tspan x="60" dy="15.7">市场信息的关注度不够，所以在应对整个旅游</tspan>
<tspan x="60" dy="15.7">市场的变化方面显得比较生涩 。最突出的例</tspan>
<tspan x="60" dy="15.7">子是失去20__年长沙市政府采购会议定点单</tspan>
<tspan x="60" dy="15.7">位的资格。主要就是由于没有关注到相关信息</tspan>
<tspan x="60" dy="15.7">的发布而直接错失投标的机会。在此，我们要</tspan>
<tspan x="60" dy="15.7">作深刻的检讨。另一个方面的不足表现在无法</tspan>
<tspan x="60" dy="15.7">根据目标市场、季节的变化制定出相应的营销</tspan>
<tspan x="60" dy="15.7">策略。</tspan></text></g>
<g id="h2"><rect class="bx" x="153" y="2153" width="261" height="153" rx="6"/><text class="t" x="160" y="2171">
<tspan x="160">营销部在日常的工作中，除了会议接待的过程</tspan>
<tspan x="160" dy="15.7">中有较少的与顾客面对面交流的时间，其它几</tspan>
<tspan x="160" dy="15.7">乎没有机会与宾客交流。或者说存在这样的机</tspan>
<tspan x="160" dy="15.7">会我们在无意间就放过了。我们无法知道顾客</tspan>
<tspan x="160" dy="15.7">需要什么，无法获得宾客在酒店消费的直观感</tspan>
<tspan x="160" dy="15.7">受，甚至有投诉或建议宾客都有可能找不到表</tspan>
<tspan x="160" dy="15.7">达的对象。这样就很难给宾客创造惊喜和超值</tspan>
<tspan x="160" dy="15.7">的享受，也就难以培养宾客的忠诚度和对酒店</tspan>
<tspan x="160" dy="15.7">的归属感。</tspan></text></g>

<g id="rel-items">
<g id="r1"><rect class="bx" x="847" y="2336" width="200" height="27" rx="5"/><text class="t ra" x="1040" y="2353">★ 2022销售月度个人工作总结5篇</text></g>
<g id="r2"><rect class="bx" x="872" y="2391" width="175" height="27" rx="5"/><text class="t ra" x="1040" y="2408">★ 汽车销售2022工作总结5篇</text></g>
<g id="r3"><rect class="bx" x="905" y="2446" width="142" height="27" rx="5"/><text class="t ra" x="1040" y="2463">★ 营销经理半年总结5篇</text></g>
<g id="r4"><rect class="bx" x="875" y="2500" width="172" height="27" rx="5"/><text class="t ra" x="1040" y="2517">★ 销售工作计划总结5篇范本</text></g>
<g id="r5"><rect class="bx" x="860" y="2555" width="187" height="27" rx="5"/><text class="t ra" x="1040" y="2572">★ 2022销售员年度工作总结5篇</text></g>
<g id="r6"><rect class="bx" x="875" y="2610" width="172" height="27" rx="5"/><text class="t ra" x="1040" y="2627">★ 销售工作得失总结5篇范文</text></g>
<g id="r7"><rect class="bx" x="887" y="2665" width="160" height="27" rx="5"/><text class="t ra" x="1040" y="2682">★ 员工的季度工作总结5篇</text></g>
<g id="r8"><rect class="bx" x="875" y="2720" width="172" height="27" rx="5"/><text class="t ra" x="1040" y="2737">★ 销售今日工作总结4篇范本</text></g>
<g id="r9"><rect class="bx" x="816" y="2774" width="231" height="27" rx="5"/><text class="t ra" x="1040" y="2791">★ 2022销售半年工作总结报告大全10篇</text></g>
<g id="r10"><rect class="bx" x="875" y="2829" width="172" height="27" rx="5"/><text class="t ra" x="1040" y="2846">★ 销售工作不足总结5篇范文</text></g>
</g>

<g id="watermarks">
<text class="wm" transform="translate(372,700) rotate(-29.5)">树图 shutu.cn</text>
<text class="wm" transform="translate(372,1700) rotate(-29.5)">树图 shutu.cn</text>
<text class="wm" transform="translate(372,2705) rotate(-29.5)">树图 shutu.cn</text>
<text class="wm" transform="translate(1650,706) rotate(-29.5)">树图 shutu.cn</text>
<text class="wm" transform="translate(1650,1706) rotate(-29.5)">树图 shutu.cn</text>
<text class="wm" transform="translate(1650,2705) rotate(-29.5)">树图 shutu.cn</text>
</g>
</svg>
